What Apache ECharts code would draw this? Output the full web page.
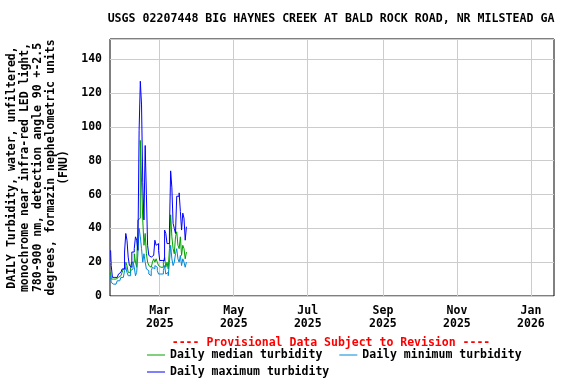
<!DOCTYPE html>
<html><head><meta charset="utf-8">
<script src="https://cdn.jsdelivr.net/npm/echarts@6/dist/echarts.min.js"></script>
<style>html,body{margin:0;padding:0;background:#fff}#c{width:576px;height:384px}</style>
</head><body><div id="c"></div>
<script>
const titleText = 'USGS 02207448 BIG HAYNES CREEK AT BALD ROCK ROAD, NR MILSTEAD GA';
const yAxisTitle = 'DAILY Turbidity, water, unfiltered,\nmonochrome near infra-red LED light,\n780-900 nm, detection angle 90 +-2.5\ndegrees, formazin nephelometric units\n(FNU)';
const provisionalText = '---- Provisional Data Subject to Revision ----';
const startDate = [2025, 0, 19];
const axisStart = [2025, 0, 19];
const axisEnd = [2026, 0, 20];
const tickMonths = [[2025,2],[2025,4],[2025,6],[2025,8],[2025,10],[2026,0]];
const monthNames = ['Jan','Feb','Mar','Apr','May','Jun','Jul','Aug','Sep','Oct','Nov','Dec'];
const yTicks = [0,20,40,60,80,100,120,140];
const medianVals = [14,10,10,10,10,10,11,11,12,13,14,16,16,20,18,14,14,18,20,20,25,20,17,45,46,92,68,45,30,37,25,20,18,17,17,20,22,20,22,20,18,17,17,17,20,23,17,20,16,28,48,35,28,25,35,38,30,28,35,24,30,28,22,26];
const minimumVals = [12,8,7,7,7,8,9,9,10,11,11,12,15,17,14,12,12,15,16,20,17,12,14,25,40,35,28,20,25,20,16,15,13,12,15,17,16,18,17,15,13,13,12,13,15,18,13,14,12,20,30,22,18,20,25,28,22,20,24,18,22,20,17,20];
const maximumVals = [27,18,11,11,11,11,12,13,14,15,16,16,26,37,33,23,18,17,26,26,28,35,33,27,98,127,113,67,45,89,60,30,24,23,22,24,25,33,30,31,27,21,21,21,21,39,37,31,31,39,74,64,43,40,37,59,59,61,50,39,49,46,33,41];

const FONT = 'DejaVu Sans Mono';
const DAY = 86400000;
const t0 = new Date(startDate[0], startDate[1], startDate[2]).getTime();
function mk(vals){ return vals.map((v,i)=>[t0 + i*DAY + DAY/2, v]); }
const tickVals = tickMonths.map(m => new Date(m[0], m[1], 1).getTime());

const chart = echarts.init(document.getElementById('c'), null, {renderer:'canvas'});
const txt = {fontFamily: FONT, fontWeight: 'bold', fontSize: 11.5, color: '#000'};
chart.setOption({
  animation: false,
  backgroundColor: '#fff',
  grid: {left: 110, right: 22, top: 39, bottom: 88, show: true, borderColor: '#000', borderWidth: 1, backgroundColor: 'transparent', containLabel: false, outerBoundsMode: 'none'},
  graphic: [
    {type:'text', x: 331, y: 19, style: {text: titleText, font: 'bold 11.6px "DejaVu Sans Mono"', fill:'#000', align:'center', verticalAlign:'middle'}},
    {type:'text', x: 331, y: 343, style: {text: provisionalText, font: 'bold 11.5px "DejaVu Sans Mono"', fill:'#ff0000', align:'center', verticalAlign:'middle'}}
  ],
  legend: [
    {left: 147, top: 349, padding: 0, itemWidth: 18, itemHeight: 1, itemGap: 17, icon: 'rect', textStyle: Object.assign({}, txt), data: ['Daily median turbidity','Daily minimum turbidity']},
    {left: 147, top: 366, padding: 0, itemWidth: 18, itemHeight: 1, icon: 'rect', textStyle: Object.assign({}, txt), data: ['Daily maximum turbidity']}
  ],
  xAxis: {
    type: 'value',
    min: new Date(axisStart[0], axisStart[1], axisStart[2]).getTime(),
    max: new Date(axisEnd[0], axisEnd[1], axisEnd[2]).getTime(),
    axisLine: {show: false},
    axisTick: {show: false, customValues: tickVals},
    axisLabel: Object.assign({}, txt, {customValues: tickVals, margin: 9, lineHeight: 13, hideOverlap: false, showMinLabel: true, showMaxLabel: true,
      formatter: v => { const d = new Date(v); return monthNames[d.getMonth()] + '\n' + d.getFullYear(); }}),
    splitLine: {show: true, lineStyle: {color: '#cccccc', width: 1}}
  },
  yAxis: {
    type: 'value', min: 0, max: 152, interval: 20,
    axisLine: {show: false}, axisTick: {show: false},
    axisLabel: Object.assign({}, txt, {margin: 8, formatter: v => yTicks.includes(v) ? String(v) : ''}),
    splitLine: {show: true, lineStyle: {color: '#cccccc', width: 1}},
    name: yAxisTitle, nameLocation: 'middle', nameRotate: 90, nameGap: 39,
    nameTextStyle: Object.assign({}, txt, {lineHeight: 13, align: 'center'})
  },
  series: [
    {name: 'Daily median turbidity', type: 'line', step: 'middle', showSymbol: false, symbol: 'none', data: mk(medianVals), lineStyle: {color: '#00a000', width: 1}, itemStyle: {color: '#00a000'}},
    {name: 'Daily minimum turbidity', type: 'line', step: 'middle', showSymbol: false, symbol: 'none', data: mk(minimumVals), lineStyle: {color: '#0088d8', width: 1}, itemStyle: {color: '#0088d8'}},
    {name: 'Daily maximum turbidity', type: 'line', step: 'middle', showSymbol: false, symbol: 'none', data: mk(maximumVals), lineStyle: {color: '#0000ff', width: 1}, itemStyle: {color: '#0000ff'}}
  ]
});
</script></body></html>
